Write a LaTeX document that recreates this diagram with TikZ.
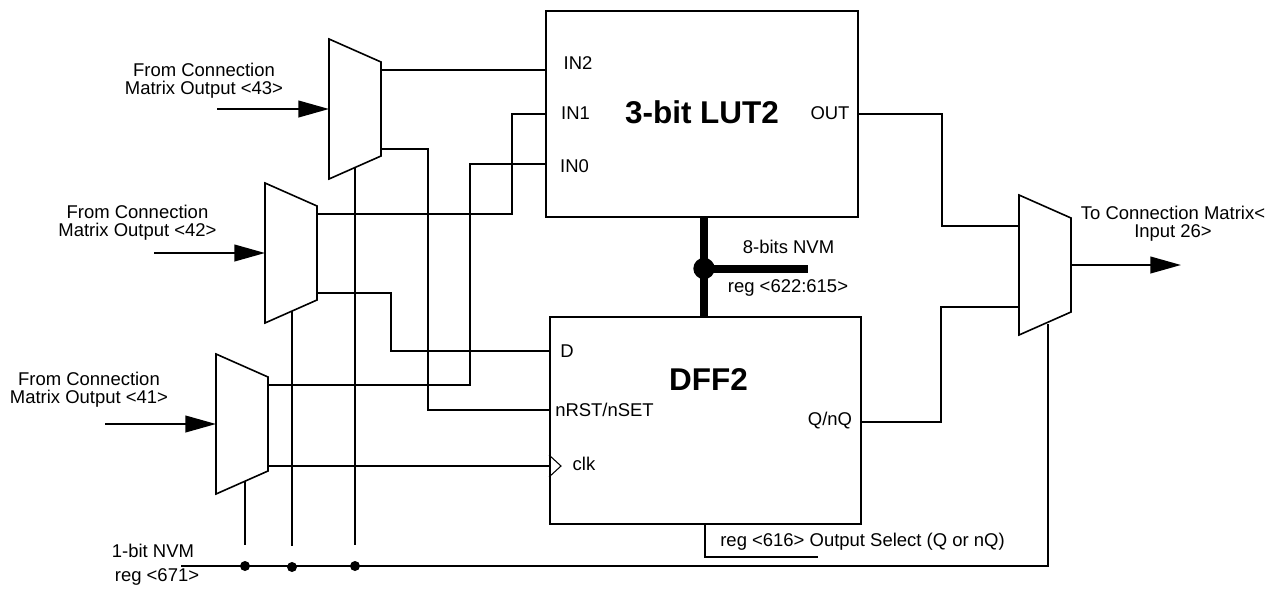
\documentclass[tikz,border=0pt]{standalone}
\usepackage{fontspec}
\setmainfont{Liberation Sans}
\usetikzlibrary{positioning}
\usetikzlibrary{arrows.meta}
\tikzset{
    wire/.style={line width=1.5pt},
    bus/.style={line width=6pt},
    block/.style={draw,line width=1.5pt,inner sep=0pt},
    muxbody/.style={inner sep=0pt,outer sep=0pt,minimum width=52*0.75pt,minimum height=140*0.75pt},
    label/.style={font=\fontsize{13.85}{13.6}\selectfont,align=center,inner sep=0pt},
    title/.style={font=\fontsize{23.6}{26}\selectfont\bfseries,inner sep=0pt},
    head/.style={-{Triangle[length=23pt,width=12.5pt]}},
    joint/.style={circle,fill=black,inner sep=0pt,minimum size=7.5pt},
}
\begin{document}
\begin{tikzpicture}[x=0.75pt,y=-0.75pt]
    \useasboundingbox (0,0) rectangle (1276,589);
    % blocks
    \node[block,minimum width=312*0.75pt,minimum height=206*0.75pt] (lut) at (702,114) {};
    \node[block,minimum width=311*0.75pt,minimum height=207*0.75pt] (dff) at (705.5,420.5) {};
    \node[title] (luttitle) at (702,112) {3-bit LUT2};
    \node[title] (dfftitle) at (708.5,380) {DFF2};
    % muxes
    \foreach \name/\x/\y in {muxa/355/109,muxb/291/253,muxc/242/424,muxout/1045/265}{
        \node[muxbody] (\name) at (\x,\y) {};
        \draw[line width=1.2pt] (\name.north west) -- ([yshift=-17.25pt]\name.north east)
            -- ([yshift=17.25pt]\name.south east) -- (\name.south west) -- cycle;
    }
    % free ends
    \coordinate (ina) at (217,109);
    \coordinate (inb) at (154,253);
    \coordinate (inc) at (105,424);
    \coordinate (out) at (1181,265);
    \coordinate (nvm) at (181,566);
    \coordinate (selend) at (818,557);
    \coordinate (busend) at (808,268.5);
    % inputs and output
    \draw[wire,head] (ina) -- (muxa.west);
    \draw[wire,head] (inb) -- (muxb.west);
    \draw[wire,head] (inc) -- (muxc.west);
    \draw[wire,head] (muxout.east) -- (out);
    % LUT and DFF inputs
    \draw[wire] (muxa.east |- 0,70) -- (lut.west |- 0,70);
    \draw[wire] (muxa.east |- 0,149) -- (428,149) -- (428,410) -- (dff.west |- 0,410);
    \draw[wire] (muxb.east |- 0,214) -- (512,214) -- (512,114) -- (lut.west |- 0,114);
    \draw[wire] (muxb.east |- 0,293) -- (391,293) -- (391,351) -- (dff.west |- 0,351);
    \draw[wire] (muxc.east |- 0,385) -- (470,385) -- (470,164) -- (lut.west |- 0,164);
    \draw[wire] (muxc.east |- 0,466) -- (dff.west |- 0,466);
    % outputs
    \draw[wire] (lut.east |- 0,114) -- (942,114) -- (942,226) -- (muxout.west |- 0,226);
    \draw[wire] (dff.east |- 0,422) -- (941,422) -- (941,307) -- (muxout.west |- 0,307);
    % clock mark
    \draw[line width=0.8pt] (dff.west |- 0,455) -- (561,466) -- (dff.west |- 0,477);
    % bus
    \draw[bus] (lut.south -| 704,0) -- (dff.north -| 704,0);
    \draw[bus] (704,268.5) -- (busend);
    \node[circle,fill=black,inner sep=0pt,minimum size=16pt] (busdot) at (704,268.5) {};
    % select lines
    \draw[wire] (nvm) -- (1048,566) -- (1048,324);
    \foreach \name/\x/\yend/\ydot in {ja/245/481/566,jb/292/311/567,jc/355/168/566}{
        \node[joint] (\name) at (\x,\ydot) {};
        \draw[wire] (\x,\yend) -- (\x,\ydot-21);
    }
    \draw[wire] (705,524) -- (705,557) -- (selend);
    % labels
    \node[label] (fa) at (204,81) {From Connection\\Matrix Output <43>};
    \node[label] (fb) at (137.5,223) {From Connection\\Matrix Output <42>};
    \node[label] (fc) at (89,390) {From Connection\\Matrix Output <41>};
    \node[label] (to) at (1173,224) {To Connection Matrix<\\Input 26>};
    \node[label] (nvma) at (788.5,247) {8-bits NVM};
    \node[label] (nvmb) at (788,288) {reg <622:615>};
    \node[label] (nvmc) at (153,551) {1-bit NVM};
    \node[label] (nvmd) at (157,577) {reg <671>};
    \node[label] (sel) at (862.5,542) {reg <616> Output Select (Q or nQ)};
    \node[label] (in2) at (578,63) {IN2};
    \node[label] (in1) at (575.5,113) {IN1};
    \node[label] (in0) at (574.5,166) {IN0};
    \node[label] (lutout) at (830,113) {OUT};
    \node[label] (d) at (567,351) {D};
    \node[label] (nrst) at (604.5,410) {nRST/nSET};
    \node[label] (clk) at (584,464) {clk};
    \node[label] (qn) at (830,421) {Q/nQ};
\end{tikzpicture}
\end{document}
